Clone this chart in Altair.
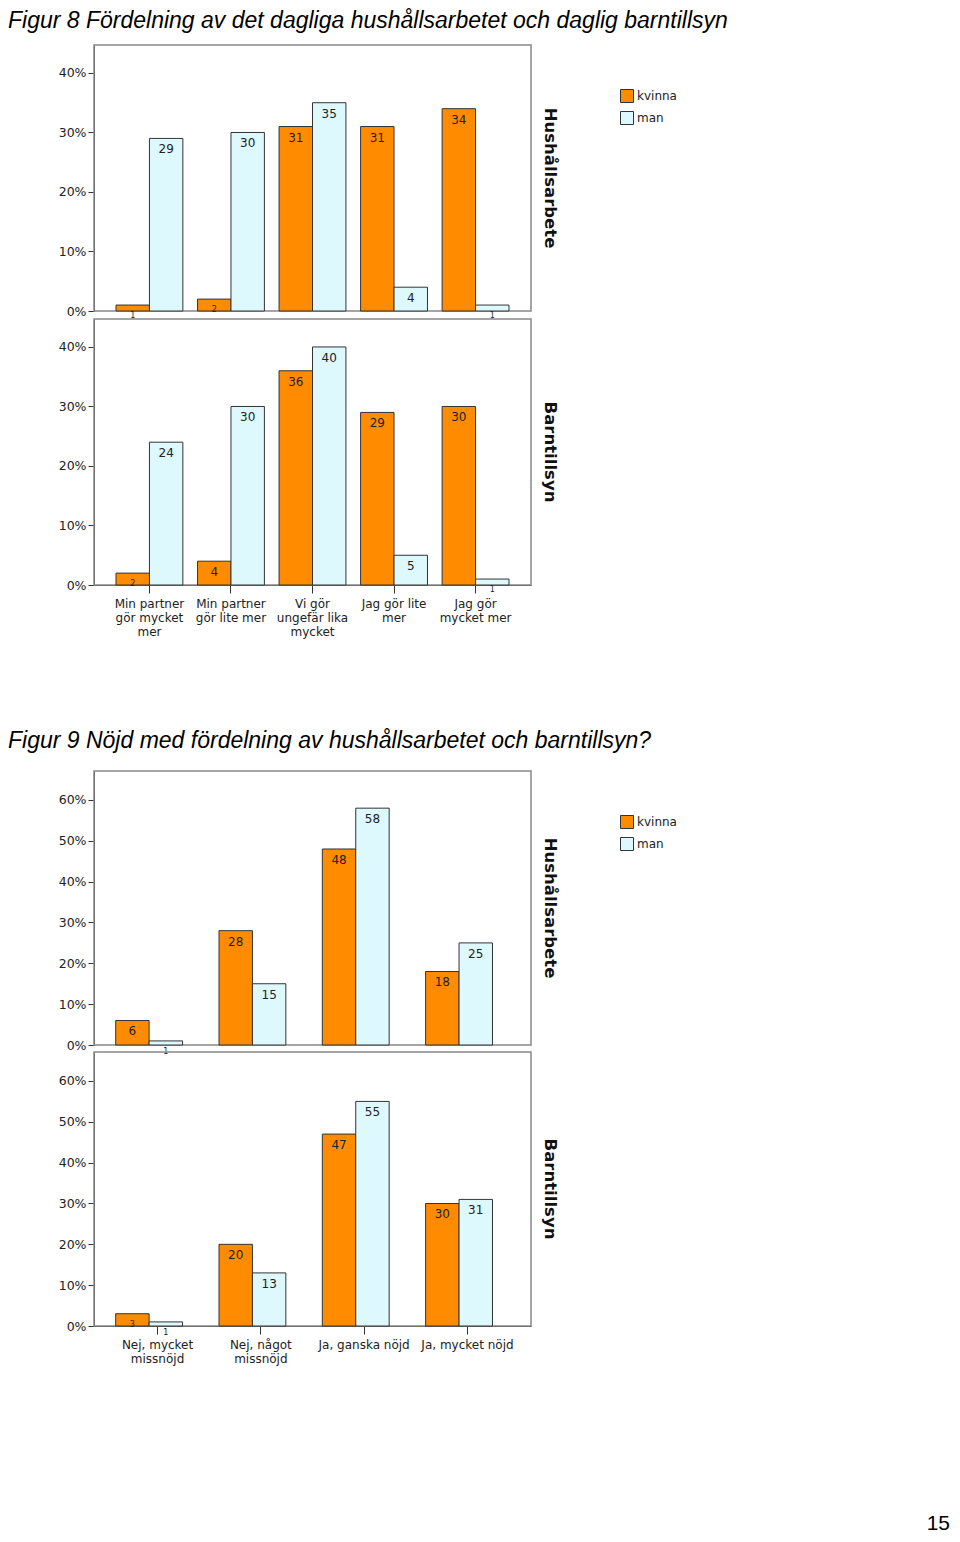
import altair as alt
import pandas as pd

# ---------------- data ----------------
panels = ["Hushållsarbete", "Barntillsyn"]
genders = ["kvinna", "man"]

fig8_categories = ["Min partner|gör mycket|mer", "Min partner|gör lite mer",
                   "Vi gör|ungefär lika|mycket", "Jag gör lite|mer", "Jag gör|mycket mer"]
fig8_hush_kvinna = [1, 2, 31, 31, 34]
fig8_hush_man = [29, 30, 35, 4, 1]
fig8_barn_kvinna = [2, 4, 36, 29, 30]
fig8_barn_man = [24, 30, 40, 5, 1]
fig8_yticks = [0, 10, 20, 30, 40]

fig9_categories = ["Nej, mycket|missnöjd", "Nej, något|missnöjd",
                   "Ja, ganska nöjd", "Ja, mycket nöjd"]
fig9_hush_kvinna = [6, 28, 48, 18]
fig9_hush_man = [1, 15, 58, 25]
fig9_barn_kvinna = [3, 20, 47, 30]
fig9_barn_man = [1, 13, 55, 31]
fig9_yticks = [0, 10, 20, 30, 40, 50, 60]

fig8_title = "Figur 8 Fördelning av det dagliga hushållsarbetet och daglig barntillsyn"
fig9_title = "Figur 9 Nöjd med fördelning av hushållsarbetet och barntillsyn?"
page_number = ["15"]

ORANGE = "#FF8C00"
CYAN = "#DDF9FD"
FONT = "DejaVu Sans"


def build_df(cats, hk, hm, bk, bm):
    rows = []
    for panel, k, m in [(panels[0], hk, hm), (panels[1], bk, bm)]:
        for c, vk, vm in zip(cats, k, m):
            rows.append({"panel": panel, "cat": c, "gender": "kvinna", "value": vk})
            rows.append({"panel": panel, "cat": c, "gender": "man", "value": vm})
    return pd.DataFrame(rows)


def figure(df, cats, ymax, ticks, height, pad_inner, pad_outer, title, title_offset, spacing):
    x = alt.X("cat:N", sort=cats,
              scale=alt.Scale(paddingInner=pad_inner, paddingOuter=pad_outer),
              axis=alt.Axis(title=None, labelExpr="split(datum.label, '|')", labelAngle=0,
                            labelFont=FONT, labelFontSize=12, labelColor="#222",
                            labelLineHeight=14, labelPadding=5, tickSize=8,
                            tickColor="#333", domainColor="#333", labelBaseline="top"))
    xo = alt.XOffset("gender:N", sort=genders,
                     scale=alt.Scale(paddingInner=0, paddingOuter=0))
    y = alt.Y("value:Q", scale=alt.Scale(domain=[0, ymax], nice=False, zero=True),
              axis=alt.Axis(title=None, values=ticks, labelExpr="datum.value + '%'",
                            grid=False, minExtent=86, labelFont=FONT, labelFontSize=12.5,
                            labelColor="#222", tickSize=6, tickColor="#333",
                            domainColor="#333", labelPadding=2))
    color = alt.Color("gender:N", sort=genders,
                      scale=alt.Scale(domain=genders, range=[ORANGE, CYAN]),
                      legend=alt.Legend(title=None, orient="none", legendX=526, legendY=44,
                                        symbolType="square", symbolSize=169,
                                        symbolStrokeColor="#333", symbolStrokeWidth=1,
                                        labelFont=FONT, labelFontSize=12, labelColor="#222",
                                        rowPadding=4, labelOffset=3))
    bars = alt.Chart().mark_bar(stroke="#333", strokeWidth=1).encode(
        x=x, xOffset=xo, y=y, color=color)
    text = alt.Chart().mark_text(baseline="middle", dy=11, font=FONT, color="#222").encode(
        x=x, xOffset=xo, y=y, text="value:Q",
        size=alt.condition("datum.value <= 3", alt.value(8), alt.value(12)))
    layered = alt.layer(bars, text, data=df).properties(width=437, height=height)
    return layered.facet(
        row=alt.Row("panel:N", sort=panels, title=None,
                    header=alt.Header(labelOrient="right", labelAngle=90, labelFont=FONT,
                                      labelFontWeight="bold", labelFontSize=16.5,
                                      labelColor="#111", labelPadding=10)),
        spacing=spacing,
        bounds="flush",
    ).properties(title=alt.TitleParams(title, anchor="start", font="Liberation Sans",
                                       fontSize=23, fontStyle="italic", fontWeight="normal",
                                       color="#000", offset=title_offset))


df8 = build_df(fig8_categories, fig8_hush_kvinna, fig8_hush_man, fig8_barn_kvinna, fig8_barn_man)
df9 = build_df(fig9_categories, fig9_hush_kvinna, fig9_hush_man, fig9_barn_kvinna, fig9_barn_man)

c8 = figure(df8, fig8_categories, 44.7, fig8_yticks, 266, 0.18, 0.27, fig8_title, 11, 8)
c9 = figure(df9, fig9_categories, 67.1, fig9_yticks, 274, 0.19, 0.21, fig9_title, 17, 7)

page = alt.Chart(pd.DataFrame({"t": page_number})).mark_text(
    align="right", baseline="middle", font="Liberation Sans", fontSize=21, color="#000"
).encode(text="t:N", x=alt.value(856), y=alt.value(66)).properties(
    width=856, height=78, view=alt.ViewBackground(stroke="transparent"))

chart = alt.vconcat(c8, c9, page, spacing=93).resolve_legend(color="independent").properties(
    padding={"left": 0, "top": 2, "right": 0, "bottom": 0},
).configure_view(stroke="#888", strokeWidth=1.5)

chart.save("out.html", embed_options={"renderer": "svg", "actions": False})
